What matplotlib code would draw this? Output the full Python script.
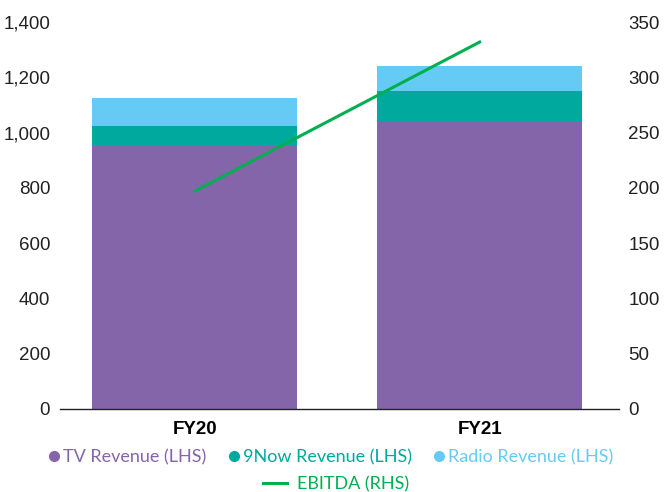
import matplotlib
matplotlib.use("Agg")
import matplotlib.pyplot as plt
from matplotlib.lines import Line2D
import numpy as np

# Datos
anios = ["FY20", "FY21"]
tv = [952, 1043]
nine_now = [72, 107]
radio = [101, 91]
ebitda = [197, 332]

col_tv = "#8565AA"
col_9now = "#00A99D"
col_radio = "#66CBF4"
col_ebitda = "#00B050"

plt.rcParams["font.family"] = ["Liberation Sans", "DejaVu Sans"]

fig = plt.figure(figsize=(6.66, 4.92), dpi=100)
ax = fig.add_axes([0.090, 0.169, 0.839, 0.786])
ax2 = ax.twinx()

x = np.arange(len(anios))
ancho = 0.72
ax.bar(x, tv, ancho, color=col_tv, zorder=2)
ax.bar(x, nine_now, ancho, bottom=tv, color=col_9now, zorder=2)
ax.bar(x, radio, ancho, bottom=np.array(tv) + np.array(nine_now), color=col_radio, zorder=2)

ax2.plot(x, ebitda, color=col_ebitda, lw=2.2, zorder=3)

ax.set_xlim(-0.473, 1.488)
ax.set_ylim(0, 1400)
ax2.set_ylim(0, 350)
ax.set_yticks(range(0, 1401, 200))
ax.set_yticklabels([f"{v:,}" for v in range(0, 1401, 200)])
ax2.set_yticks(range(0, 351, 50))

ax.set_xticks(x)
ax.set_xticklabels(anios, fontweight="bold", fontsize=10.5)

for a in (ax, ax2):
    for s in ["top", "right", "left"]:
        a.spines[s].set_visible(False)
    a.spines["bottom"].set_color("#222222")
    a.spines["bottom"].set_linewidth(1.0)
    a.tick_params(length=0, labelsize=13.5, colors="#222222")
ax2.spines["bottom"].set_visible(False)
ax.tick_params(axis="x", pad=9, colors="black")
ax.tick_params(axis="y", pad=7)
ax2.tick_params(axis="y", pad=7)

# Leyenda
fuente_ley = {"family": ["Lato", "DejaVu Sans"], "size": 13}
h1 = [Line2D([], [], marker="o", ls="", color=c, markersize=7) for c in (col_tv, col_9now, col_radio)]
fig.legend(h1, ["TV Revenue (LHS)", "9Now Revenue (LHS)", "Radio Revenue (LHS)"],
           loc="center", bbox_to_anchor=(0.497, 0.071), ncol=3, frameon=False,
           prop=fuente_ley, handlelength=0.6, handletextpad=0.2, columnspacing=1.2,
           labelcolor=[col_tv, col_9now, col_radio])
h2 = [Line2D([], [], color=col_ebitda, lw=2.2)]
fig.legend(h2, ["EBITDA (RHS)"], loc="center", bbox_to_anchor=(0.505, 0.015),
           frameon=False, prop=fuente_ley, handlelength=1.3, handletextpad=0.6,
           labelcolor=[col_ebitda])

fig.savefig("out.png", dpi=100)
